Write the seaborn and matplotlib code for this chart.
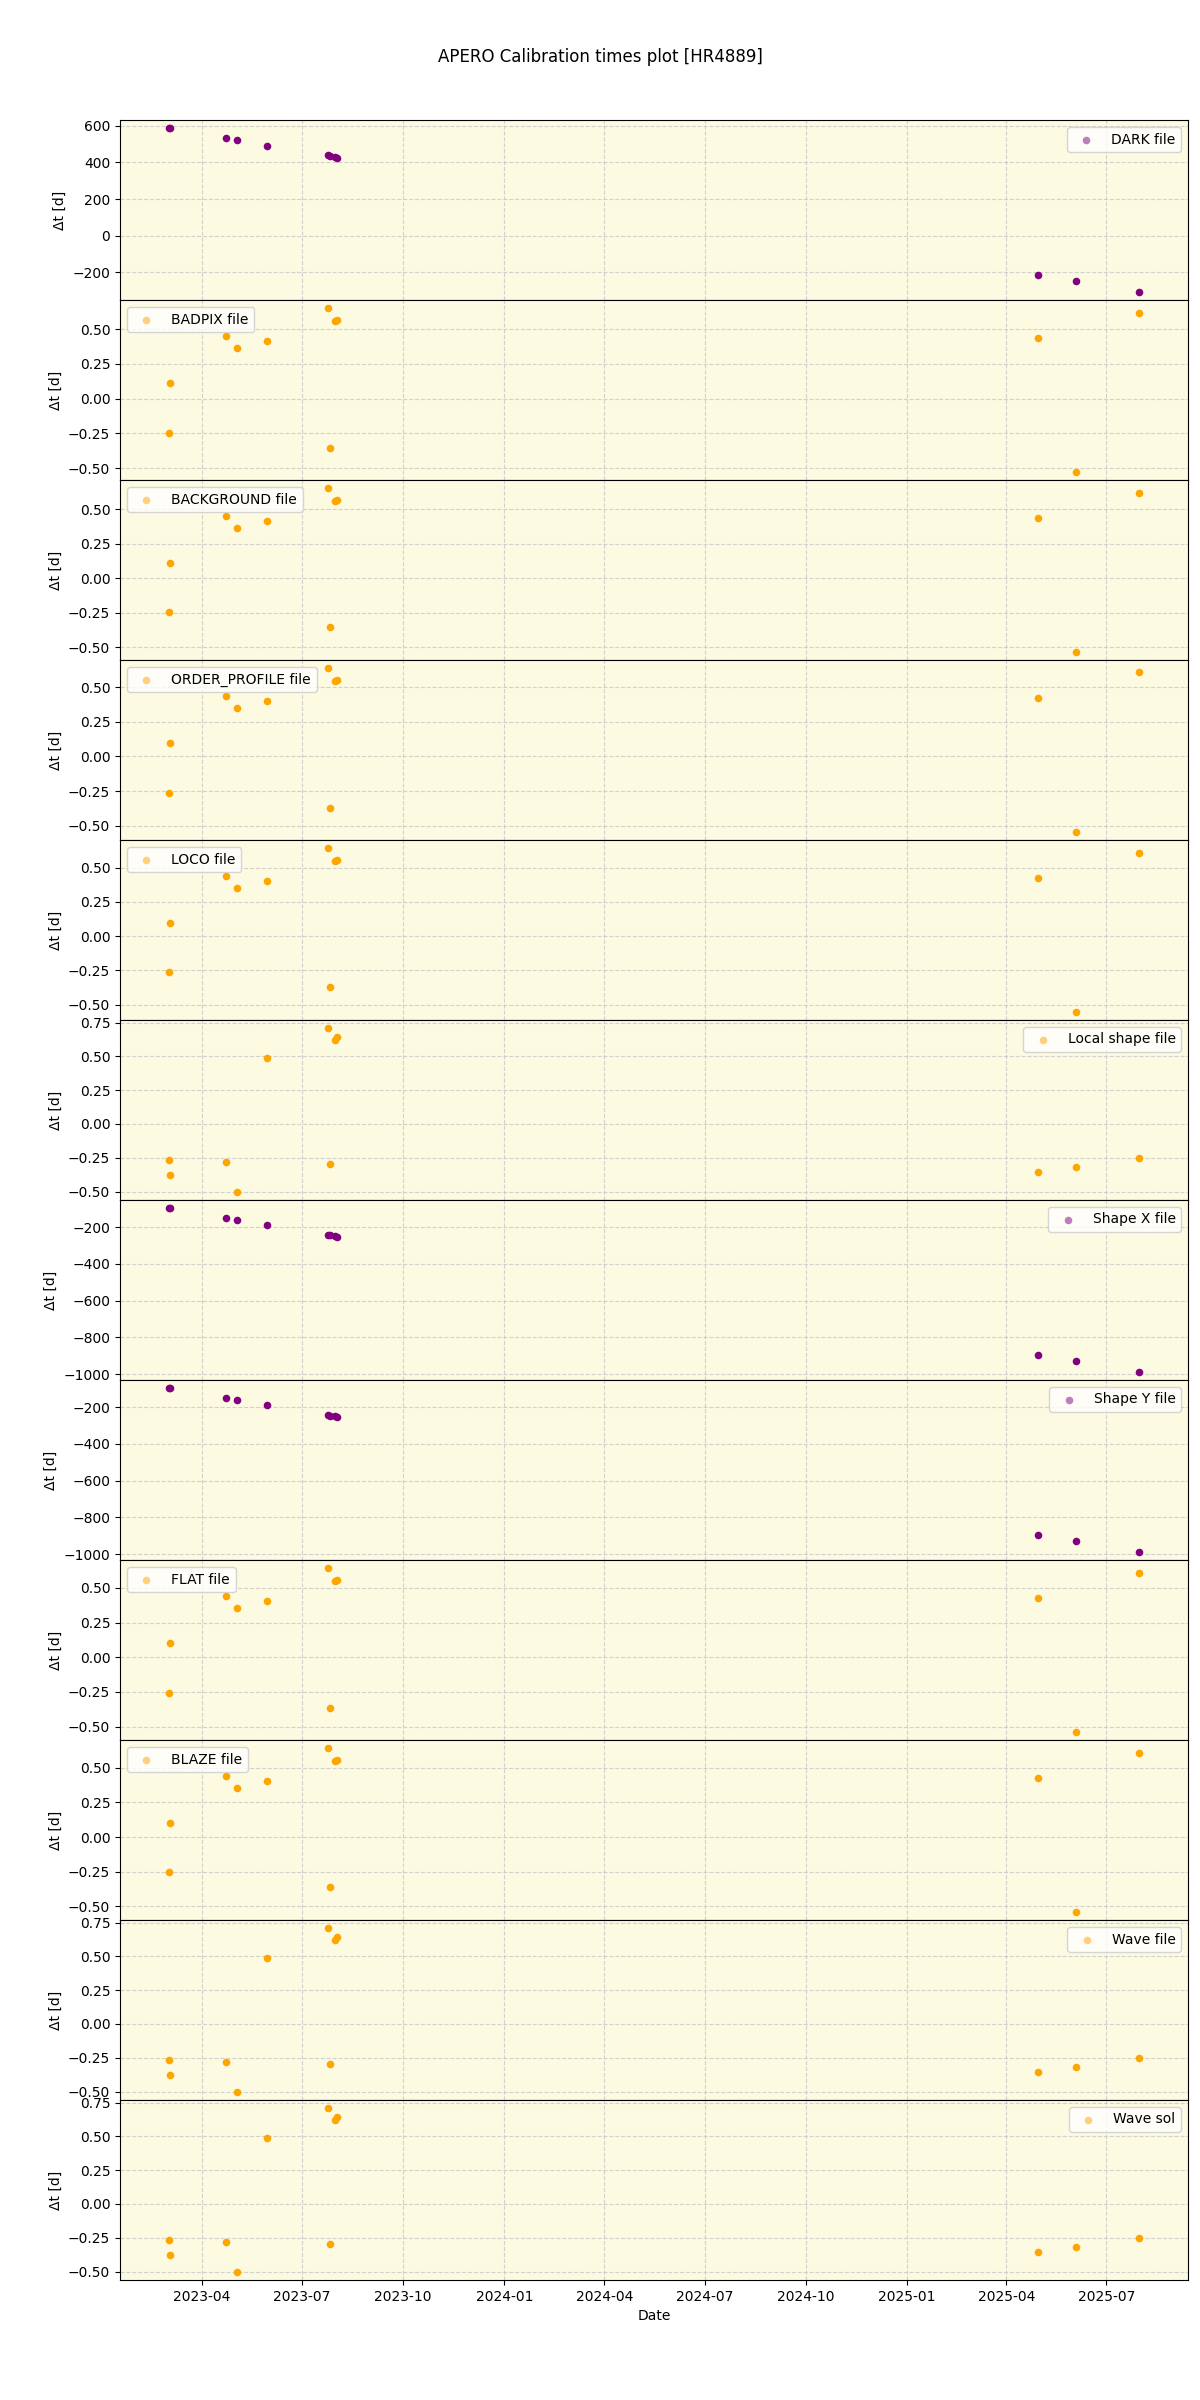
import matplotlib
matplotlib.use("Agg")
import matplotlib.pyplot as plt
import seaborn as sns
import pandas as pd
import numpy as np

# observation dates
obs_dates = ['2023-03-02', '2023-03-03', '2023-04-23', '2023-05-03', '2023-05-30',
             '2023-07-25', '2023-07-27', '2023-07-31', '2023-08-02',
             '2025-04-30', '2025-06-03', '2025-07-31']

dark = [587, 586, 531, 520, 492, 438, 436, 432, 426, -214, -247, -307]
badpix = [-0.245, 0.111, 0.453, 0.363, 0.414, 0.651, -0.354, 0.557, 0.567, 0.438, -0.526, 0.613]
background = [-0.248, 0.109, 0.451, 0.362, 0.413, 0.651, -0.357, 0.556, 0.565, 0.438, -0.533, 0.619]
order_profile = [-0.262, 0.097, 0.439, 0.350, 0.400, 0.638, -0.370, 0.544, 0.553, 0.426, -0.545, 0.608]
loco = [-0.265, 0.096, 0.441, 0.350, 0.401, 0.642, -0.375, 0.546, 0.556, 0.427, -0.553, 0.610]
local_shape = [-0.267, -0.381, -0.279, -0.502, 0.490, 0.708, -0.297, 0.624, 0.646, -0.355, -0.318, -0.251]
shape_x = [-97, -98, -151, -162, -191, -243, -245, -249, -256, -895, -928, -987]
shape_y = [-97, -97, -150, -161, -190, -244, -246, -249, -255, -896, -929, -988]
flat = [-0.255, 0.102, 0.444, 0.354, 0.405, 0.643, -0.364, 0.549, 0.558, 0.428, -0.538, 0.608]
blaze = [-0.255, 0.102, 0.444, 0.354, 0.405, 0.643, -0.364, 0.549, 0.558, 0.429, -0.541, 0.609]
wave_file = [-0.267, -0.381, -0.279, -0.502, 0.490, 0.708, -0.297, 0.624, 0.646, -0.355, -0.317, -0.251]
wave_sol = [-0.267, -0.381, -0.279, -0.502, 0.490, 0.708, -0.297, 0.624, 0.646, -0.355, -0.318, -0.251]

labels = ['DARK file', 'BADPIX file', 'BACKGROUND file', 'ORDER_PROFILE file', 'LOCO file',
          'Local shape file', 'Shape X file', 'Shape Y file', 'FLAT file', 'BLAZE file',
          'Wave file', 'Wave sol']
series = [dark, badpix, background, order_profile, loco, local_shape, shape_x, shape_y,
          flat, blaze, wave_file, wave_sol]
colors = ['purple', 'orange', 'orange', 'orange', 'orange', 'orange', 'purple', 'purple',
          'orange', 'orange', 'orange', 'orange']
legend_locs = ['upper right', 'upper left', 'upper left', 'upper left', 'upper left',
               'upper right', 'upper right', 'upper right', 'upper left', 'upper left',
               'upper right', 'upper right']

dates = pd.to_datetime(obs_dates)

fig, axes = plt.subplots(12, 1, figsize=(12, 24), sharex=True)
plt.subplots_adjust(hspace=0, left=0.1, right=0.99, top=0.95, bottom=0.05)

for ax, lab, vals, col, loc in zip(axes, labels, series, colors, legend_locs):
    df = pd.DataFrame({'date': dates, 'dt': vals})
    ax.set_facecolor('#fcfae1')
    sns.scatterplot(data=df, x='date', y='dt', ax=ax, color=col, s=30, linewidth=0,
                    label=lab, zorder=3)
    ax.grid(True, linestyle='--', color='#c8c8c8', alpha=0.8, zorder=0)
    ax.set_axisbelow(True)
    ax.set_ylabel('Δt [d]')
    ax.set_xlabel('')
    leg = ax.legend(loc=loc, fontsize=10)
    for h in leg.legend_handles:
        h.set_alpha(0.5)

axes[-1].set_xlabel('Date')
fig.suptitle('APERO Calibration times plot [HR4889]', y=0.98, fontsize=12)
fig.savefig('out.png', dpi=100)
